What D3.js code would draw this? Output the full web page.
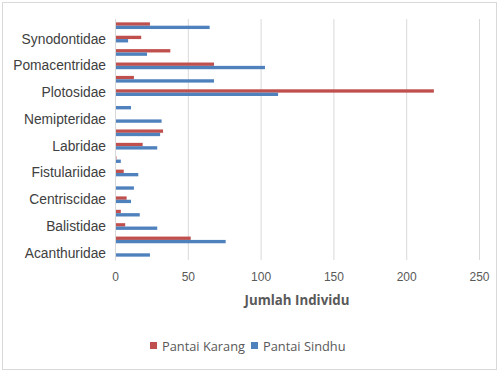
<!DOCTYPE html>
<html>
<head>
<meta charset="utf-8">
<script src="https://cdn.jsdelivr.net/npm/d3@7"></script>
<style>
  body { margin: 0; background: #fff; }
  svg { display: block; font-family: "Open Sans", sans-serif; }
</style>
</head>
<body>
<div id="chart"></div>
<script>
// categories bottom -> top, as in the source spreadsheet
const categories = ["Acanthuridae", "Apogonidae", "Balistidae", "Caesionidae", "Centriscidae",
  "Chaetodontidae", "Fistulariidae", "Holocentridae", "Labridae", "Lutjanidae", "Nemipteridae",
  "Ostraciidae", "Plotosidae", "Pomacanthidae", "Pomacentridae", "Serranidae", "Synodontidae",
  "Tetraodontidae"];
const pantaiKarang = [0, 52, 7, 4, 8, 0, 6, 1, 19, 33, 0, 0, 219, 13, 68, 38, 18, 24];
const pantaiSindhu = [24, 76, 29, 17, 11, 13, 16, 4, 29, 31, 32, 11, 112, 68, 103, 22, 9, 65];
const seriesNames = ["Pantai Karang", "Pantai Sindhu"];
const xTicks = [0, 50, 100, 150, 200, 250];

const colors = ["#C0504D", "#4F81BD"];
const width = 499, height = 372;
const margin = {top: 19, right: 20, bottom: 112, left: 115};

const svg = d3.select("#chart").append("svg")
  .attr("width", width).attr("height", height);

svg.append("rect")
  .attr("x", 2.5).attr("y", 2.5)
  .attr("width", width - 5).attr("height", height - 5)
  .attr("fill", "#fff").attr("stroke", "#d9d9d9");

const x = d3.scaleLinear().domain([0, 250]).range([margin.left, 479]);
const y = d3.scaleBand()
  .domain(categories.slice().reverse())
  .range([margin.top, height - margin.bottom])
  .paddingInner(0.5).paddingOuter(0.25);
const ySub = d3.scaleBand().domain(seriesNames).range([0, y.bandwidth()]);

// gridlines
svg.append("g").selectAll("line")
  .data(xTicks)
  .join("line")
  .attr("x1", d => x(d) + 0.5).attr("x2", d => x(d) + 0.5)
  .attr("y1", margin.top).attr("y2", height - margin.bottom)
  .attr("stroke", "#d9d9d9");

// bars
const rows = categories.map((c, i) => ({cat: c, vals: [pantaiKarang[i], pantaiSindhu[i]]}));
const g = svg.append("g").selectAll("g")
  .data(rows)
  .join("g")
  .attr("transform", d => `translate(0,${y(d.cat)})`);
g.selectAll("rect")
  .data(d => d.vals.map((v, k) => ({v, k})))
  .join("rect")
  .attr("x", x(0))
  .attr("y", d => ySub(seriesNames[d.k]))
  .attr("width", d => x(d.v) - x(0))
  .attr("height", ySub.bandwidth())
  .attr("fill", d => colors[d.k]);

// x axis
const xAxis = svg.append("g")
  .attr("transform", `translate(0,${height - margin.bottom})`)
  .call(d3.axisBottom(x).tickValues(xTicks).tickSize(0).tickPadding(12));
xAxis.select(".domain").remove();
xAxis.selectAll("text").attr("fill", "#595959").style("font-size", "12px");

// y axis (every other label, as in the original)
const yAxis = svg.append("g")
  .attr("transform", `translate(${margin.left},0)`)
  .call(d3.axisLeft(y).tickSize(0).tickPadding(9)
    .tickFormat((d, i) => categories.indexOf(d) % 2 === 0 ? d : ""));
yAxis.select(".domain").attr("stroke", "#d9d9d9");
yAxis.selectAll("text").attr("fill", "#404040").style("font-size", "13.8px");

svg.append("text")
  .attr("x", (x(0) + x(250)) / 2).attr("y", 305)
  .attr("text-anchor", "middle")
  .attr("fill", "#595959")
  .style("font-size", "13.3px").style("font-weight", "bold")
  .text("Jumlah Individu");

// legend
const legend = svg.append("g").attr("transform", "translate(150,347)");
const legendX = [0, 101];
seriesNames.forEach((s, k) => {
  const item = legend.append("g").attr("transform", `translate(${legendX[k]},0)`);
  item.append("rect").attr("x", 0).attr("y", -5).attr("width", 7).attr("height", 7)
    .attr("fill", colors[k]);
  item.append("text").attr("x", 12).attr("y", 0).attr("dy", "0.32em")
    .attr("fill", "#595959").style("font-size", "12.8px").text(s);
});
</script>
</body>
</html>
